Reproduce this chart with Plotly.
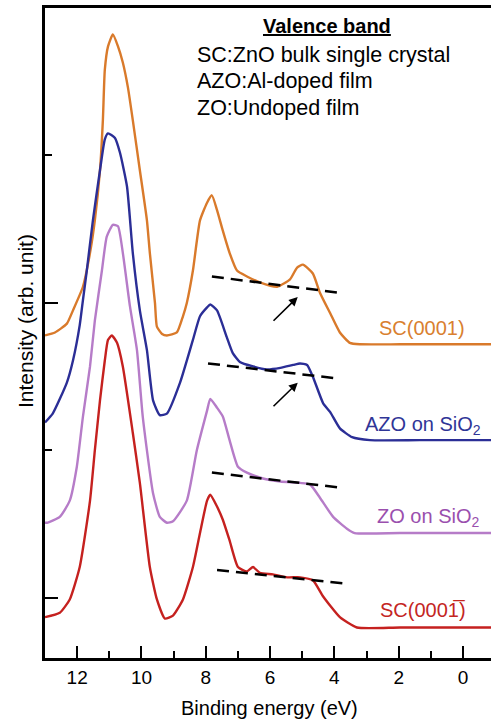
import plotly.graph_objects as go

# ---------------- data (binding energy in eV, intensity in arb. units) ----------------
sc0001_ev = [13.00, 12.69, 12.32, 12.13, 11.82, 11.60, 11.45, 11.29, 11.20, 11.14, 11.04, 10.89,
             10.73, 10.58, 10.42, 10.27, 10.05, 9.83, 9.74, 9.58, 9.52, 9.36, 9.21, 8.90, 8.71,
             8.59, 8.40, 8.18, 7.96, 7.81, 7.65, 7.47, 7.26, 7.03, 6.72, 6.32, 5.78, 5.38, 5.16,
             4.98, 4.67, 4.45, 4.13, 3.83, 3.52, 3.21, 1.96, 0.72, -0.87]
sc0001_int = [1.78, 1.80, 1.86, 1.95, 2.11, 2.34, 2.56, 2.90, 3.24, 3.58, 3.74, 3.82,
              3.74, 3.63, 3.46, 3.24, 2.90, 2.56, 2.34, 2.00, 1.84, 1.79, 1.78, 1.80, 1.91,
              2.00, 2.22, 2.56, 2.68, 2.73, 2.63, 2.49, 2.34, 2.22, 2.18, 2.14, 2.11, 2.16, 2.24,
              2.26, 2.20, 2.07, 1.93, 1.80, 1.73, 1.72, 1.72, 1.72, 1.72]

azo_ev = [13.00, 12.76, 12.32, 12.13, 11.92, 11.82, 11.70, 11.51, 11.29, 11.14, 11.04, 10.83,
          10.67, 10.45, 10.27, 10.05, 9.83, 9.64, 9.43, 9.21, 8.80, 8.40, 8.18, 7.96, 7.86,
          7.65, 7.35, 7.16, 6.94, 6.53, 6.10, 5.68, 5.28, 5.07, 4.85, 4.67, 4.35, 4.13, 3.83,
          3.45, 2.89, 1.34, -0.87]
azo_int = [1.19, 1.25, 1.46, 1.61, 1.85, 2.02, 2.22, 2.56, 2.90, 3.11, 3.15, 3.12,
           3.02, 2.79, 2.34, 1.95, 1.68, 1.34, 1.24, 1.25, 1.46, 1.75, 1.91, 1.97, 1.99,
           1.95, 1.77, 1.66, 1.60, 1.57, 1.55, 1.56, 1.58, 1.59, 1.58, 1.50, 1.32, 1.26, 1.15,
           1.09, 1.07, 1.07, 1.07]

zo_ev = [13.00, 12.94, 12.54, 12.23, 12.01, 11.82, 11.60, 11.45, 11.23, 11.08, 10.89, 10.73,
         10.58, 10.36, 10.14, 9.96, 9.64, 9.43, 9.21, 9.02, 8.59, 8.28, 7.96, 7.86, 7.65,
         7.47, 7.26, 7.00, 6.72, 6.22, 5.68, 5.07, 4.76, 4.45, 4.04, 3.61, 3.37, 1.96, -0.87]
zo_int = [0.51, 0.51, 0.55, 0.66, 0.89, 1.23, 1.57, 1.88, 2.22, 2.45, 2.53, 2.52,
          2.34, 1.98, 1.68, 1.23, 0.71, 0.55, 0.51, 0.52, 0.66, 1.00, 1.27, 1.35, 1.29,
          1.23, 1.07, 0.89, 0.85, 0.81, 0.79, 0.78, 0.77, 0.68, 0.55, 0.47, 0.44, 0.44, 0.44]

sc000m1_ev = [13.00, 12.54, 12.23, 11.92, 11.60, 11.45, 11.29, 11.14, 11.04, 10.92, 10.76, 10.58,
              10.27, 10.05, 9.74, 9.52, 9.27, 9.02, 8.71, 8.40, 8.18, 7.96, 7.86, 7.65, 7.47,
              7.26, 7.00, 6.72, 6.53, 6.32, 5.91, 5.47, 5.07, 4.67, 4.35, 3.83, 3.30, 1.96, -0.87]
sc000m1_int = [-0.13, -0.10, -0.01, 0.21, 0.66, 1.00, 1.34, 1.61, 1.75, 1.78, 1.73, 1.57,
               1.12, 0.78, 0.21, -0.01, -0.14, -0.12, -0.01, 0.21, 0.44, 0.66, 0.70, 0.62, 0.53,
               0.39, 0.21, 0.18, 0.21, 0.17, 0.16, 0.14, 0.14, 0.12, 0.01, -0.13, -0.20, -0.20, -0.20]

# dashed background guide lines (start, end)
guide_ev = [[7.81, 3.89], [7.93, 3.98], [7.81, 3.89], [7.65, 3.73]]
guide_int = [[2.18, 2.07], [1.59, 1.49], [0.85, 0.75], [0.19, 0.10]]

# arrows: (tail eV, tail int, head eV, head int)
arrow_tail_ev = [5.94, 5.94]
arrow_tail_int = [1.87, 1.29]
arrow_head_ev = [5.14, 5.14]
arrow_head_int = [2.04, 1.46]

x_tick_vals = [12, 10, 8, 6, 4, 2, 0]
x_tick_text = ["12", "10", "8", "6", "4", "2", "0"]
x_minor_vals = [11, 9, 7, 5, 3, 1]

# ---------------- styling ----------------
FONT = "Arial, Liberation Sans, sans-serif"
W, H = 491, 720
L, R, T, B = 45, 0, 8, 62
X_RANGE = [13.0, -0.87]
Y_RANGE = [-0.407, 4.0]

C_OR = "#D97A2B"
C_BL = "#2B2E96"
C_VI = "#B67CC8"
C_RD = "#C5211F"


def px_x(px):
    return X_RANGE[0] + (px - L) / (W - L - R) * (X_RANGE[1] - X_RANGE[0])


def px_y(py):
    return Y_RANGE[1] - (py - T) / (H - T - B) * (Y_RANGE[1] - Y_RANGE[0])


fig = go.Figure()
for xs, ys, c in [(sc0001_ev, sc0001_int, C_OR), (azo_ev, azo_int, C_BL),
                  (zo_ev, zo_int, C_VI), (sc000m1_ev, sc000m1_int, C_RD)]:
    fig.add_trace(go.Scatter(x=xs, y=ys, mode="lines",
                             line=dict(color=c, width=2.4, shape="spline", smoothing=0.5),
                             showlegend=False, hoverinfo="skip"))

for gx, gy in zip(guide_ev, guide_int):
    fig.add_trace(go.Scatter(x=gx, y=gy, mode="lines",
                             line=dict(color="black", width=2.5, dash="12px,7px"),
                             showlegend=False, hoverinfo="skip"))

ann = []
for tx, ty, hx, hy in zip(arrow_tail_ev, arrow_tail_int, arrow_head_ev, arrow_head_int):
    ann.append(dict(x=hx, y=hy, ax=tx, ay=ty, xref="x", yref="y", axref="x", ayref="y",
                    text="", showarrow=True, arrowhead=2, arrowsize=1.1, arrowwidth=1.6,
                    arrowcolor="black"))

# right-side curve labels
labels = [("SC(0001)", 377, 328, "#D9802F"),
          ("AZO on SiO<sub>2</sub>", 363, 425, "#2F3597"),
          ("ZO on SiO<sub>2</sub>", 375, 517, "#9A4FAE"),
          ("SC(000\u0031\u0305)", 378, 610, "#C4261F")]
for txt, lx, ly, c in labels:
    ann.append(dict(x=px_x(lx), y=px_y(ly), xref="x", yref="y", text=txt, showarrow=False,
                    xanchor="left", yanchor="middle", font=dict(family=FONT, size=20, color=c)))

# info block
ann.append(dict(x=px_x(327), y=px_y(26), xref="x", yref="y", text="<b><u>Valence band</u></b>",
                showarrow=False, xanchor="center", yanchor="middle",
                font=dict(family=FONT, size=20, color="black")))
for txt, ly in [("SC:ZnO bulk single crystal", 55), ("AZO:Al-doped film", 81),
                ("ZO:Undoped film", 108)]:
    ann.append(dict(x=px_x(195), y=px_y(ly), xref="x", yref="y", text=txt, showarrow=False,
                    xanchor="left", yanchor="middle",
                    font=dict(family=FONT, size=21.5, color="black")))

# axis titles
ann.append(dict(x=(269 - L) / (W - L - R), y=(H - B - 708) / (H - T - B), xref="paper",
                yref="paper", text="Binding energy (eV)", showarrow=False, xanchor="center",
                yanchor="middle", font=dict(family=FONT, size=20, color="black")))
ann.append(dict(x=(25 - L) / (W - L - R), y=(H - B - 321) / (H - T - B), xref="paper",
                yref="paper", text="Intensity (arb. unit)", showarrow=False, textangle=-90,
                xanchor="center", yanchor="middle", font=dict(family=FONT, size=21, color="black")))

fig.update_layout(
    width=W, height=H, margin=dict(l=L, r=R, t=T, b=B),
    paper_bgcolor="white", plot_bgcolor="white",
    annotations=ann,
    xaxis=dict(range=X_RANGE, showgrid=False, zeroline=False, showline=True, linewidth=2.5,
               linecolor="black", mirror=True, ticks="inside", ticklen=12, tickwidth=2,
               tickcolor="black", tickvals=x_tick_vals, ticktext=x_tick_text,
               tickfont=dict(family=FONT, size=19, color="black"),
               minor=dict(tickvals=x_minor_vals, ticks="inside", ticklen=7, tickwidth=2,
                          tickcolor="black", showgrid=False)),
    yaxis=dict(range=Y_RANGE, showgrid=False, zeroline=False, showline=True, linewidth=2.5,
               linecolor="black", mirror=False, ticks="inside", ticklen=13, tickwidth=2,
               tickcolor="black", tickvals=[0, 2], showticklabels=False,
               minor=dict(tickvals=[1, 3], ticks="inside", ticklen=7, tickwidth=2,
                          tickcolor="black", showgrid=False)),
)

fig.write_html("out.html", config={"displayModeBar": False},
               post_script="document.body.style.margin='0';document.body.style.overflow='hidden';")
